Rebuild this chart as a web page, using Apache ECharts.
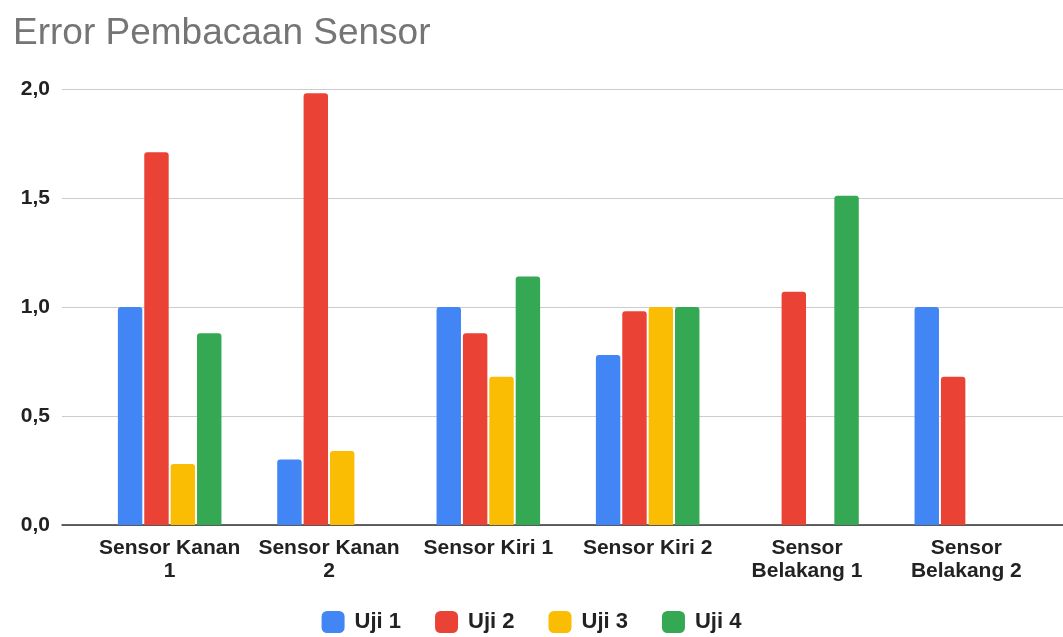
<!DOCTYPE html>
<html>
<head>
<meta charset="utf-8">
<script src="https://cdn.jsdelivr.net/npm/echarts@6/dist/echarts.min.js"></script>
<style>
  html, body { margin: 0; padding: 0; background: #ffffff; }
  #chart { width: 1063px; height: 637px; }
</style>
</head>
<body>
<div id="chart"></div>
<script>
// Sensor reading error per test run (Uji 1..4)
const categories = ['Sensor Kanan\n1', 'Sensor Kanan\n2', 'Sensor Kiri 1', 'Sensor Kiri 2', 'Sensor\nBelakang 1', 'Sensor\nBelakang 2'];
const seriesNames = ['Uji 1', 'Uji 2', 'Uji 3', 'Uji 4'];
const uji1 = [1.0, 0.30, 1.0, 0.78, null, 1.0];
const uji2 = [1.71, 1.98, 0.88, 0.98, 1.07, 0.68];
const uji3 = [0.28, 0.34, 0.68, 1.0, null, null];
const uji4 = [0.88, null, 1.14, 1.0, 1.51, null];
const yTicks = { min: 0, max: 2, interval: 0.5 };

const colors = ['#4285F4', '#EA4335', '#FBBC04', '#34A853'];
const values = [uji1, uji2, uji3, uji4];
const font = '"Liberation Sans", Arial, sans-serif';

const chart = echarts.init(document.getElementById('chart'), null, { renderer: 'canvas' });

chart.setOption({
  animation: false,
  color: colors,
  title: {
    text: 'Error Pembacaan Sensor',
    left: 8,
    top: 10,
    textStyle: { fontFamily: font, fontSize: 37, fontWeight: 'normal', color: '#757575' }
  },
  legend: {
    data: seriesNames,
    bottom: -1,
    left: 'center',
    itemWidth: 23,
    itemHeight: 22,
    itemGap: 34,
    icon: 'roundRect',
    textStyle: { fontFamily: font, fontSize: 22, fontWeight: 'bold', color: '#222', padding: [0, 0, 0, 5] }
  },
  grid: [
    // full-width grid carrying gridlines, y labels and the baseline
    { left: 62, right: 0, top: 89, bottom: 112, containLabel: false },
    // grid holding the bar groups
    { left: 90, right: 17, top: 89, bottom: 112, containLabel: false }
  ],
  xAxis: [
    {
      gridIndex: 0, type: 'category', data: [''],
      axisLine: { show: true, lineStyle: { color: '#333', width: 1.5 } },
      axisTick: { show: false }, axisLabel: { show: false }
    },
    {
      gridIndex: 1, type: 'category', data: categories,
      axisLine: { show: false }, axisTick: { show: false },
      axisLabel: {
        interval: 0, margin: 12,
        fontFamily: font, fontSize: 21, fontWeight: 'bold', color: '#222', lineHeight: 23
      }
    }
  ],
  yAxis: [
    {
      gridIndex: 0, type: 'value', min: yTicks.min, max: yTicks.max, interval: yTicks.interval,
      axisLine: { show: false }, axisTick: { show: false },
      splitLine: { lineStyle: { color: '#cccccc', width: 1 } },
      axisLabel: {
        margin: 12, fontFamily: font, fontSize: 21, fontWeight: 'bold', color: '#222',
        formatter: v => v.toFixed(1).replace('.', ',')
      }
    },
    {
      gridIndex: 1, type: 'value', min: yTicks.min, max: yTicks.max, interval: yTicks.interval,
      show: false, splitLine: { show: false }
    }
  ],
  series: seriesNames.map((name, i) => ({
    name: name,
    type: 'bar',
    xAxisIndex: 1,
    yAxisIndex: 1,
    data: values[i],
    barCategoryGap: '35%',
    barGap: '8%',
    itemStyle: { color: colors[i], borderRadius: [3, 3, 0, 0] }
  }))
});
</script>
</body>
</html>
